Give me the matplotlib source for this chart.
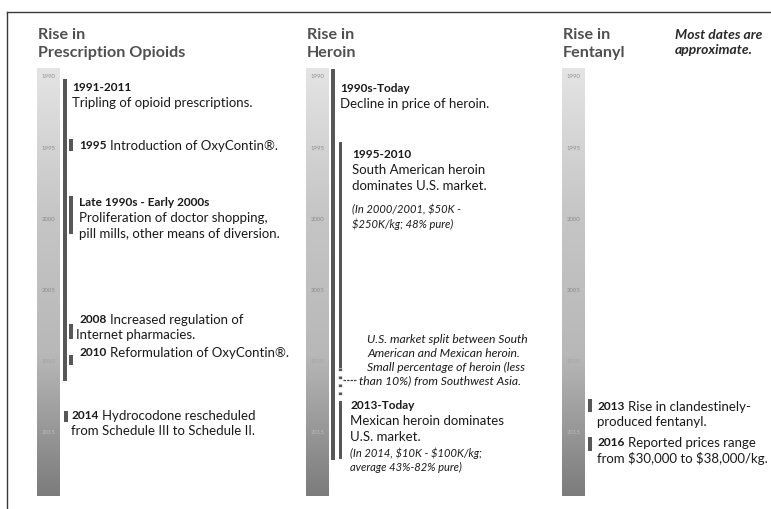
import matplotlib
matplotlib.use("Agg")
import matplotlib.pyplot as plt
import numpy as np

# ---------------- data ----------------
tick_years = [1990, 1995, 2000, 2005, 2010, 2015]
timeline_start, timeline_end = 1989.5, 2019.5

col_titles = ["Rise in\nPrescription Opioids", "Rise in\nHeroin", "Rise in\nFentanyl"]
note_text = "Most dates are\napproximate."

# Prescription opioids
opioid_heads = ["1991-2011", "1995", "Late 1990s - Early 2000s", "2008", "2010", "2014"]
opioid_texts = ["Tripling of opioid prescriptions.",
                "Introduction of OxyContin®.",
                "Proliferation of doctor shopping,\npill mills, other means of diversion.",
                "Increased regulation of\nInternet pharmacies.",
                "Reformulation of OxyContin®.",
                "Hydrocodone rescheduled\nfrom Schedule III to Schedule II."]
opioid_start = [1990.2, 1994.4, 1998.4, 2007.4, 2009.6, 2013.5]
opioid_end = [2011.4, 1995.3, 2001.1, 2008.5, 2010.3, 2014.3]

# Heroin
heroin_heads = ["1990s-Today", "1995-2010", "2013-Today"]
heroin_texts = ["Decline in price of heroin.",
                "South American heroin\ndominates U.S. market.",
                "Mexican heroin dominates\nU.S. market."]
heroin_notes = ["", "(In 2000/2001, $50K -\n$250K/kg; 48% pure)",
                "(In 2014, $10K - $100K/kg;\naverage 43%-82% pure)"]
heroin_start = [1989.5, 1994.6, 2012.8]
heroin_end = [2017.0, 2010.5, 2016.9]
split_start, split_end = 2010.5, 2012.6
split_text = ("U.S. market split between South\nAmerican and Mexican heroin.\n"
              "Small percentage of heroin (less\nthan 10%) from Southwest Asia.")

# Fentanyl
fent_heads = ["2013", "2016"]
fent_texts = ["Rise in clandestinely-\nproduced fentanyl.",
              "Reported prices range\nfrom $30,000 to $38,000/kg."]
fent_start = [2012.7, 2015.35]
fent_end = [2013.6, 2016.3]

# ---------------- layout ----------------
W, H = 771, 510
Y0 = 77.0          # pixel row of 1990
PPY = 14.24        # pixels per year
LS = 15.5          # text line spacing (pixels)

fig = plt.figure(figsize=(W / 100, H / 100), dpi=100)
ax = fig.add_axes([0, 0, 1, 1])
ax.set_xlim(0, W)
ax.set_ylim(1990 + (H - Y0) / PPY, 1990 - Y0 / PPY)
ax.axis("off")


def row(p):
    """pixel row -> year coordinate"""
    return 1990 + (p - Y0) / PPY


FONT = "Lato"
DARK = "#1a1a1a"
TITLE_C = "#505050"
EVENT_C = "#575757"
BODY = 9.5
HEAD = 8.6
ITAL = 8.0
kw = dict(family=FONT, parse_math=False)

grad_cmap = matplotlib.colors.LinearSegmentedColormap.from_list(
    "g", ["#e4e4e4", "#c6c6c6", "#b8b8b8", "#7c7c7c"])
grad = np.linspace(0, 1, 256).reshape(-1, 1)
lab_cmap = matplotlib.colors.LinearSegmentedColormap.from_list(
    "l", ["#8e8e8e", "#8a8a8a", "#d0d0d0"])

col_x = [37, 306, 562]
bar_w = 23

for cx, title in zip(col_x, col_titles):
    ax.imshow(grad, cmap=grad_cmap, aspect="auto",
              extent=(cx, cx + bar_w, timeline_end, timeline_start), zorder=1)
    for t in tick_years:
        f = (t - timeline_start) / (timeline_end - timeline_start)
        ax.text(cx + bar_w / 2, t, str(t), fontsize=4.3, color=lab_cmap(f),
                ha="center", va="center", zorder=2, **kw)
    lines = title.split("\n")
    for j, ln in enumerate(lines):
        ax.text(cx + 1, row(35 + 18 * j), ln, fontsize=11.6, color=TITLE_C,
                fontweight="bold", va="center", ha="left", **kw)

for j, ln in enumerate(note_text.split("\n")):
    ax.text(675, row(35 + 15 * j), ln, fontsize=10.0, color="#2a2a2a",
            style="italic", fontweight="bold", va="center", ha="left", **kw)

# frame lines
ax.plot([6.5, W], [row(13)] * 2, color="#3a3a3a", lw=1.0, zorder=3)
ax.plot([6.5, 6.5], [row(13), row(H)], color="#3a3a3a", lw=1.0, zorder=3)


def event_bar(x, s, e, w=3.5):
    ax.fill_betweenx([s, e], x, x + w, color=EVENT_C, lw=0, zorder=3)


def inline_entry(x, py, head, text, x2=None):
    lines = text.split("\n")
    h = ax.text(x, row(py), head, fontsize=HEAD, fontweight="bold", color=DARK,
                va="center", ha="left", **kw)
    ax.annotate(lines[0], xy=(1, 0.5), xycoords=h, xytext=(2.5, 0),
                textcoords="offset points", fontsize=BODY, color=DARK,
                va="center", ha="left", **kw)
    for i, ln in enumerate(lines[1:], 1):
        ax.text(x if x2 is None else x2, row(py + i * LS), ln, fontsize=BODY,
                color=DARK, va="center", ha="left", **kw)


def block_entry(x, py, head, text):
    ax.text(x, row(py), head, fontsize=HEAD, fontweight="bold", color=DARK,
            va="center", ha="left", **kw)
    for i, ln in enumerate(text.split("\n"), 1):
        ax.text(x, row(py + i * LS), ln, fontsize=BODY, color=DARK,
                va="center", ha="left", **kw)


# ---- opioids ----
op_bar_x = [63, 69, 69, 69, 69, 64]
op_text_x = [72, 79, 79, 79, 79, 71]
op_text_x2 = [72, 79, 79, 76, 79, 71]
op_text_py = [88, 146, 203, 320, 353, 416]
for i in range(len(opioid_heads)):
    event_bar(op_bar_x[i], opioid_start[i], opioid_end[i])
    if "-" in opioid_heads[i]:
        block_entry(op_text_x[i], op_text_py[i], opioid_heads[i], opioid_texts[i])
    else:
        inline_entry(op_text_x[i], op_text_py[i], opioid_heads[i],
                     opioid_texts[i], op_text_x2[i])

# ---- heroin ----
h_bar_x = [331, 338.5, 338.5]
h_text_x = [340, 352, 350]
h_text_py = [89, 155, 406]
h_note_py = [0, 210, 453]
for i in range(len(heroin_heads)):
    event_bar(h_bar_x[i], heroin_start[i], heroin_end[i])
    block_entry(h_text_x[i], h_text_py[i], heroin_heads[i], heroin_texts[i])
    if heroin_notes[i]:
        for j, ln in enumerate(heroin_notes[i].split("\n")):
            ax.text(h_text_x[i], row(h_note_py[i] + 14.5 * j), ln,
                    fontsize=ITAL, style="italic", color=DARK,
                    va="center", ha="left", **kw)

# split period (dotted)
ax.plot([340.2, 340.2], [split_start, split_end], color=EVENT_C, lw=2.4,
        ls=(0, (0.8, 1.6)), zorder=3)
split_lines = split_text.split("\n")
split_py = [340, 353.7, 367.4, 381]
for j, ln in enumerate(split_lines):
    xx = 367 if j < len(split_lines) - 1 else 359
    ax.text(xx, row(split_py[j]), ln, fontsize=8.7, style="italic",
            color=DARK, va="center", ha="left", **kw)
ax.plot([342.5, 357], [row(381)] * 2, color="#444444", lw=0.9,
        ls=(0, (2, 0.8)), zorder=3)

# ---- fentanyl ----
f_text_py = [407, 443]
for i in range(len(fent_heads)):
    event_bar(588, fent_start[i], fent_end[i])
    inline_entry(597, f_text_py[i], fent_heads[i], fent_texts[i])

fig.savefig("out.png", dpi=100)
